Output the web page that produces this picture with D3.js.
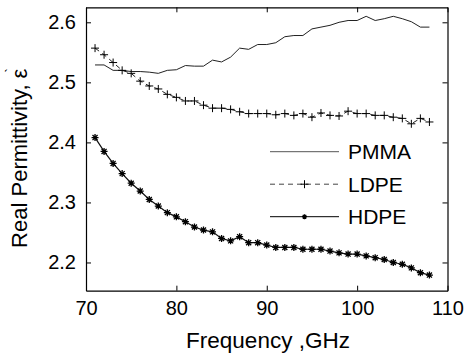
<!DOCTYPE html>
<html>
<head>
<meta charset="utf-8">
<script src="https://cdn.jsdelivr.net/npm/d3@7"></script>
<style>
  body { margin: 0; background: #fff; }
  svg text { font-family: "Liberation Sans", Arial, sans-serif; fill: #000; }
</style>
</head>
<body>
<div id="chart"></div>
<script>
const freq = [71, 72, 73, 74, 75, 76, 77, 78, 79, 80, 81, 82, 83, 84, 85, 86, 87, 88, 89,
  90, 91, 92, 93, 94, 95, 96, 97, 98, 99, 100, 101, 102, 103, 104, 105, 106, 107, 108];

const pmma = [2.529, 2.529, 2.520, 2.520, 2.518, 2.518, 2.517, 2.515, 2.520, 2.521, 2.528, 2.527,
  2.527, 2.537, 2.534, 2.542, 2.557, 2.555, 2.563, 2.563, 2.566, 2.576, 2.578, 2.578, 2.589,
  2.592, 2.595, 2.600, 2.603, 2.603, 2.610, 2.603, 2.606, 2.610, 2.606, 2.601, 2.592, 2.592];

const ldpe = [2.557, 2.546, 2.533, 2.520, 2.515, 2.502, 2.494, 2.489, 2.480, 2.475, 2.469, 2.469,
  2.462, 2.457, 2.457, 2.455, 2.451, 2.448, 2.448, 2.448, 2.446, 2.448, 2.445, 2.448, 2.442,
  2.449, 2.445, 2.444, 2.452, 2.448, 2.448, 2.445, 2.445, 2.442, 2.440, 2.431, 2.440, 2.434];

const hdpe = [2.408, 2.385, 2.365, 2.348, 2.332, 2.319, 2.305, 2.294, 2.283, 2.276, 2.268, 2.259,
  2.254, 2.251, 2.240, 2.236, 2.243, 2.233, 2.233, 2.229, 2.225, 2.225, 2.225, 2.222, 2.222,
  2.222, 2.219, 2.216, 2.214, 2.214, 2.211, 2.208, 2.205, 2.200, 2.197, 2.191, 2.183, 2.179];

const xTicks = [70, 80, 90, 100, 110];
const yTicks = [2.2, 2.3, 2.4, 2.5, 2.6];
const seriesNames = ["PMMA", "LDPE", "HDPE"];

const W = 469, H = 356;
const box = { l: 86, r: 447.5, t: 7.3, b: 290.7 };

const svg = d3.select("#chart").append("svg")
  .attr("width", W).attr("height", H);

const x = d3.scaleLinear().domain([70, 110]).range([box.l, box.r]);
const y = d3.scaleLinear().domain([2.153, 2.625]).range([box.b, box.t]);

// axes, matlab style box with inward ticks on all four sides
const tk = 5;
const axB = svg.append("g").attr("transform", "translate(0," + box.b + ")")
  .call(d3.axisBottom(x).tickValues(xTicks).tickSizeInner(-tk).tickSizeOuter(0).tickPadding(10).tickFormat(d3.format("d")));
const axT = svg.append("g").attr("transform", "translate(0," + box.t + ")")
  .call(d3.axisTop(x).tickValues(xTicks).tickSizeInner(-tk).tickSizeOuter(0).tickFormat(""));
const axL = svg.append("g").attr("transform", "translate(" + box.l + ",0)")
  .call(d3.axisLeft(y).tickValues(yTicks).tickSizeInner(-tk).tickSizeOuter(0).tickPadding(10).tickFormat(d3.format(".1f")));
const axR = svg.append("g").attr("transform", "translate(" + box.r + ",0)")
  .call(d3.axisRight(y).tickValues(yTicks).tickSizeInner(-tk).tickSizeOuter(0).tickFormat(""));

[axB, axT, axL, axR].forEach(a => {
  a.select(".domain").attr("stroke", "#000").attr("stroke-width", 1.2);
  a.selectAll(".tick line").attr("stroke", "#000");
  a.selectAll("text").attr("font-size", 20).attr("font-family", "Liberation Sans, Arial, sans-serif").attr("fill", "#000");
});

const line = d3.line().x((d, i) => x(freq[i])).y(d => y(d));

svg.append("path").datum(pmma)
  .attr("d", line).attr("fill", "none").attr("stroke", "#222").attr("stroke-width", 1);

svg.append("path").datum(ldpe)
  .attr("d", line).attr("fill", "none").attr("stroke", "#222").attr("stroke-width", 1)
  .attr("stroke-dasharray", "5,4");

svg.append("path").datum(hdpe)
  .attr("d", line).attr("fill", "none").attr("stroke", "#111").attr("stroke-width", 1.2);

function plus(cx, cy, s) {
  return "M" + (cx - s) + "," + cy + "H" + (cx + s) + "M" + cx + "," + (cy - s) + "V" + (cy + s);
}
function star(cx, cy, s) {
  const d = s * 0.72;
  return plus(cx, cy, s) +
    "M" + (cx - d) + "," + (cy - d) + "L" + (cx + d) + "," + (cy + d) +
    "M" + (cx - d) + "," + (cy + d) + "L" + (cx + d) + "," + (cy - d);
}

svg.append("g").selectAll("path").data(ldpe).enter().append("path")
  .attr("d", (d, i) => plus(x(freq[i]), y(d), 4))
  .attr("stroke", "#000").attr("stroke-width", 1).attr("fill", "none");

svg.append("g").selectAll("path").data(hdpe).enter().append("path")
  .attr("d", (d, i) => star(x(freq[i]), y(d), 3.5))
  .attr("stroke", "#000").attr("stroke-width", 1.3).attr("fill", "none");

// legend (no frame)
const lg = svg.append("g");
const lx0 = 270, lx1 = 339, ly0 = 151.7, lstep = 32.5;
seriesNames.forEach((name, i) => {
  const ly = ly0 + i * lstep;
  const ln = lg.append("line").attr("x1", lx0).attr("x2", lx1).attr("y1", ly).attr("y2", ly)
    .attr("stroke", i === 0 ? "#555" : "#000").attr("stroke-width", 1);
  if (i === 1) ln.attr("stroke-dasharray", "5,4").attr("stroke", "#444");
  const mx = (lx0 + lx1) / 2;
  if (i === 1) lg.append("path").attr("d", plus(mx, ly, 4)).attr("stroke", "#000").attr("fill", "none");
  if (i === 2) lg.append("path").attr("d", star(mx, ly, 2.5)).attr("stroke", "#000").attr("stroke-width", 1.3).attr("fill", "none");
  lg.append("text").attr("x", 348).attr("y", ly).attr("dy", "0.36em")
    .attr("font-size", 21).text(name);
});

// axis labels
svg.append("text").attr("x", 268).attr("y", 348)
  .attr("text-anchor", "middle").attr("font-size", 22.5).text("Frequency ,GHz");

const yl = svg.append("text").attr("transform", "translate(27,158) rotate(-90)")
  .attr("text-anchor", "middle").attr("font-size", 22);
yl.append("tspan").text("Real Permittivity, ε");
yl.append("tspan").attr("dy", "-0.8em").attr("dx", "-0.3em").attr("font-size", 14).text("`");
</script>
</body>
</html>
